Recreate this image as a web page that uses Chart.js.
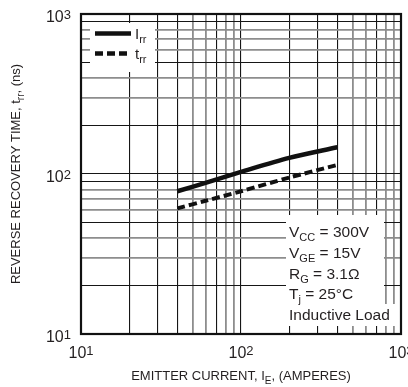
<!DOCTYPE html>
<html>
<head>
<meta charset="utf-8">
<script src="https://cdn.jsdelivr.net/npm/chart.js@4"></script>
<style>
  html, body { margin: 0; padding: 0; background: #fff; }
  canvas { display: block; }
</style>
</head>
<body>
<canvas id="chart" width="408" height="387"></canvas>
<script>
// values (emitter current in A, times in ns)
const current = [40, 60, 100, 200, 400];
const irr = [78, 88, 103, 126, 147];
const trr = [61, 68, 78, 95, 114];

// decade labels on both axes
const xDecades = [10, 100, 1000];
const yDecades = [10, 100, 1000];

// text blocks: [text, mode]
const legendItems = [
  { parts: [['I', ''], ['rr', 'sub']], dash: [] },
  { parts: [['t', ''], ['rr', 'sub']], dash: [8, 4] }
];
const conditions = [
  [['V', ''], ['CC', 'sub'], [' = 300V', '']],
  [['V', ''], ['GE', 'sub'], [' = 15V', '']],
  [['R', ''], ['G', 'sub'], [' = 3.1\u03A9', '']],
  [['T', ''], ['j', 'sub'], [' = 25\u00B0C', '']],
  [['Inductive Load', '']]
];
const xTitle = [['EMITTER CURRENT, I', ''], ['E', 'sub'], [', (AMPERES)', '']];
const yTitle = [['REVERSE RECOVERY TIME, t', ''], ['rr', 'sub'], [', (ns)', '']];

const FONT = '"Liberation Sans", Arial, Helvetica, sans-serif';
const INK = '#231f20';

// 1..9 x each decade, for the log grid
function gridValues(decades) {
  let vals = [];
  for (let i = 0; i < decades.length - 1; i++) {
    for (let s = 1; s < 10; s++) vals.push(s * decades[i]);
  }
  vals.push(decades[decades.length - 1]);
  return vals;
}

function significand(v) {
  return Math.round(v / Math.pow(10, Math.floor(Math.log10(v) + 1e-9)));
}

// darker lines on some of the minor divisions, like the printed paper
const xDark = [1, 2, 3, 4, 7];
const yDark = [1, 2, 5, 9];

function gridStyle(dark) {
  return {
    color: ctx => dark.includes(significand(ctx.tick.value)) ? '#161616' : '#8d8d8d',
    lineWidth: ctx => dark.includes(significand(ctx.tick.value)) ? 1.1 : 1.8,
    drawTicks: false
  };
}

function drawRich(ctx, parts, x, y, size, subSize, subDy, supSize, supDy, align) {
  let w = 0;
  parts.forEach(([t, m]) => {
    ctx.font = (m === 'sub' ? subSize : m === 'sup' ? supSize : size) + 'px ' + FONT;
    w += ctx.measureText(t).width;
  });
  let cx = align === 'center' ? x - w / 2 : align === 'right' ? x - w : x;
  ctx.textAlign = 'left';
  ctx.textBaseline = 'alphabetic';
  parts.forEach(([t, m]) => {
    ctx.font = (m === 'sub' ? subSize : m === 'sup' ? supSize : size) + 'px ' + FONT;
    const dy = m === 'sub' ? subDy : m === 'sup' ? -supDy : 0;
    ctx.fillText(t, cx, y + dy);
    cx += ctx.measureText(t).width;
  });
  return cx;
}

const decorations = {
  id: 'decorations',
  afterDraw(chart) {
    const ctx = chart.ctx;
    const area = chart.chartArea;
    const xs = chart.scales.x, ys = chart.scales.y;
    ctx.save();
    ctx.fillStyle = INK;

    // tick labels 10^n
    xDecades.forEach(d => {
      const px = xs.getPixelForValue(d);
      const parts = [['10', ''], [String(Math.round(Math.log10(d))), 'sup']];
      drawRich(ctx, parts, px, area.bottom + 24, 16, 11, 4, 13, 3.5, 'center');
    });
    yDecades.forEach(d => {
      const py = ys.getPixelForValue(d);
      const parts = [['10', ''], [String(Math.round(Math.log10(d))), 'sup']];
      drawRich(ctx, parts, 71, py + 7.5, 16, 11, 4, 13, 3, 'right');
    });

    // axis titles
    drawRich(ctx, xTitle, (area.left + area.right) / 2, 380, 13, 10, 4, 10, 4, 'center');
    ctx.save();
    ctx.translate(20, (area.top + area.bottom) / 2);
    ctx.rotate(-Math.PI / 2);
    drawRich(ctx, yTitle, 0, 0, 13, 10, 4, 10, 4, 'center');
    ctx.restore();

    // legend box
    ctx.fillStyle = '#fff';
    ctx.fillRect(90, 23, 65, 49);
    legendItems.forEach((item, i) => {
      const y = 33.5 + i * 20;
      ctx.strokeStyle = '#111';
      ctx.lineWidth = 4.5;
      ctx.setLineDash(item.dash);
      ctx.beginPath();
      ctx.moveTo(95, y);
      ctx.lineTo(131, y);
      ctx.stroke();
      ctx.setLineDash([]);
      ctx.fillStyle = INK;
      drawRich(ctx, item.parts, 135, y + 5.5, 15, 11, 4, 11, 4, 'left');
    });

    // test conditions box
    ctx.fillStyle = '#fff';
    ctx.fillRect(286, 215, 98, 111);
    ctx.fillRect(286, 304, 110, 22);
    ctx.fillStyle = INK;
    conditions.forEach((line, i) => {
      drawRich(ctx, line, 289, 237 + i * 20.8, 15.5, 11, 4, 11, 4, 'left');
    });

    // frame
    ctx.strokeStyle = '#111';
    ctx.lineWidth = 2.2;
    ctx.strokeRect(area.left, area.top, area.right - area.left, area.bottom - area.top);
    ctx.restore();
  }
};

const ctx = document.getElementById('chart').getContext('2d');
const chart = new Chart(ctx, {
  type: 'line',
  data: {
    datasets: [
      {
        label: 'Irr',
        data: current.map((c, i) => ({ x: c, y: irr[i] })),
        borderColor: '#111',
        borderWidth: 4.5,
        pointRadius: 0,
        tension: 0.3,
        fill: false
      },
      {
        label: 'trr',
        data: current.map((c, i) => ({ x: c, y: trr[i] })),
        borderColor: '#111',
        borderWidth: 4,
        borderDash: [8, 4],
        pointRadius: 0,
        tension: 0.3,
        fill: false
      }
    ]
  },
  options: {
    responsive: false,
    animation: false,
    devicePixelRatio: 1,
    layout: { padding: { left: 81, top: 14, right: 7, bottom: 53 } },
    plugins: { legend: { display: false }, tooltip: { enabled: false } },
    scales: {
      x: {
        type: 'logarithmic',
        min: 10,
        max: 1000,
        afterBuildTicks: scale => { scale.ticks = gridValues(xDecades).map(v => ({ value: v })); },
        ticks: { display: false },
        grid: gridStyle(xDark),
        border: { display: false }
      },
      y: {
        type: 'logarithmic',
        min: 10,
        max: 1000,
        afterBuildTicks: scale => { scale.ticks = gridValues(yDecades).map(v => ({ value: v })); },
        ticks: { display: false },
        grid: gridStyle(yDark),
        border: { display: false }
      }
    }
  },
  plugins: [decorations]
});
</script>
</body>
</html>
